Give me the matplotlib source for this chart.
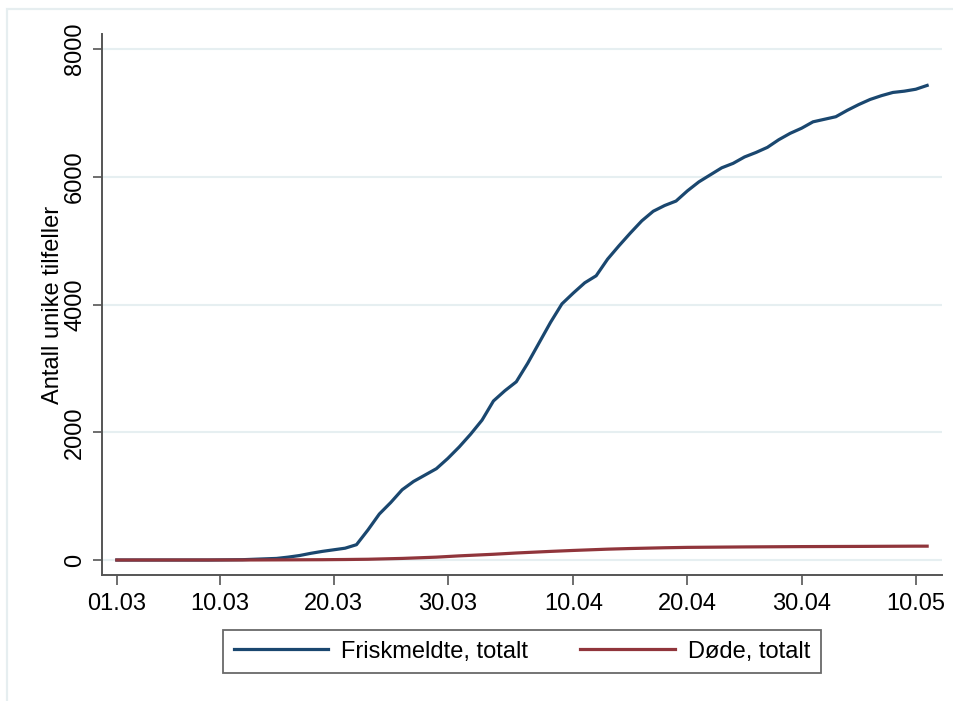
import pandas as pd
import matplotlib
matplotlib.use('Agg')
import matplotlib.pyplot as plt
import matplotlib.dates as mdates
from matplotlib.patches import Rectangle

plt.rcParams['font.family'] = ['Liberation Sans', 'DejaVu Sans']

# Data: days since 01.03.2020 and cumulative counts
start = pd.Timestamp('2020-03-01')

recovered_days = [0, 8, 11, 14, 15, 16, 17, 18, 19, 20, 21, 22, 23, 24, 25, 26, 27, 28,
                  29, 30, 31, 32, 33, 34, 35, 36, 37, 38, 39, 40, 41, 42, 43, 44, 45,
                  46, 47, 48, 49, 50, 51, 52, 53, 54, 55, 56, 57, 58, 59, 60, 61, 62,
                  63, 64, 65, 66, 67, 68, 69, 70, 71]
recovered = [0, 0, 5, 25, 45, 70, 105, 135, 160, 185, 240, 470, 720, 900, 1100, 1230,
             1330, 1430, 1590, 1770, 1970, 2190, 2490, 2650, 2790, 3080, 3400, 3720,
             4010, 4180, 4340, 4450, 4710, 4920, 5120, 5310, 5460, 5550, 5620, 5780,
             5920, 6030, 6140, 6210, 6310, 6380, 6460, 6580, 6680, 6760, 6860, 6900,
             6940, 7040, 7130, 7210, 7270, 7320, 7340, 7370, 7430]

deaths_days = [0, 12, 15, 18, 20, 22, 25, 28, 30, 33, 35, 38, 40, 43, 45, 48, 50,
               55, 60, 65, 70, 71]
deaths = [0, 1, 3, 5, 8, 12, 25, 45, 65, 90, 110, 135, 150, 170, 180, 192, 198,
          205, 210, 213, 217, 217]

tick_dates = ['2020-03-01', '2020-03-10', '2020-03-20', '2020-03-30',
              '2020-04-10', '2020-04-20', '2020-04-30', '2020-05-10']

rec_dates = start + pd.to_timedelta(recovered_days, unit='D')
dth_dates = start + pd.to_timedelta(deaths_days, unit='D')

fig = plt.figure(figsize=(9.54, 7.01), dpi=100)
ax = fig.add_axes([0.1069, 0.1797, 0.8805, 0.7718])

# light outer frame (only top/left visible in the original crop)
fig.patches.append(Rectangle((0.0075, -0.05), 1.1, 1.037, transform=fig.transFigure,
                             fill=False, edgecolor='#e6eef0', linewidth=1.6))

blue = '#1a476f'
red = '#90353b'
ax.plot(rec_dates, recovered, color=blue, linewidth=2.3, label='Friskmeldte, totalt', zorder=3)
ax.plot(dth_dates, deaths, color=red, linewidth=2.3, label='Døde, totalt', zorder=3)

ax.set_xlim(start - pd.Timedelta(days=1.3), start + pd.Timedelta(days=72.3))
ax.set_ylim(-235, 8235)
ax.set_yticks([0, 2000, 4000, 6000, 8000])
ax.set_xticks(pd.to_datetime(tick_dates))
ax.xaxis.set_major_formatter(mdates.DateFormatter('%d.%m'))

ax.grid(axis='y', color='#e6eff1', linewidth=1.5, zorder=0)
ax.set_axisbelow(True)

for side in ['top', 'right']:
    ax.spines[side].set_visible(False)
for side in ['left', 'bottom']:
    ax.spines[side].set_color('#555555')
    ax.spines[side].set_linewidth(1.4)

ax.tick_params(axis='y', length=6.5, width=1.2, color='#555555', labelsize=17,
               pad=5, labelrotation=90)
ax.tick_params(axis='x', length=7, width=1.2, color='#555555', labelsize=17, pad=6)
for lbl in ax.get_yticklabels():
    lbl.set_va('center')

ax.set_ylabel('Antall unike tilfeller', fontsize=17, labelpad=0)

leg = ax.legend(loc='upper center', bbox_to_anchor=(0.547, 0.1013),
                bbox_transform=fig.transFigure, ncol=2, fontsize=17,
                frameon=True, fancybox=False, handlelength=4.0, handletextpad=0.55,
                columnspacing=2.2, borderpad=0.45, borderaxespad=0)
leg.get_frame().set_edgecolor('#444444')
leg.get_frame().set_linewidth(1.3)

fig.savefig('out.png', dpi=100)
